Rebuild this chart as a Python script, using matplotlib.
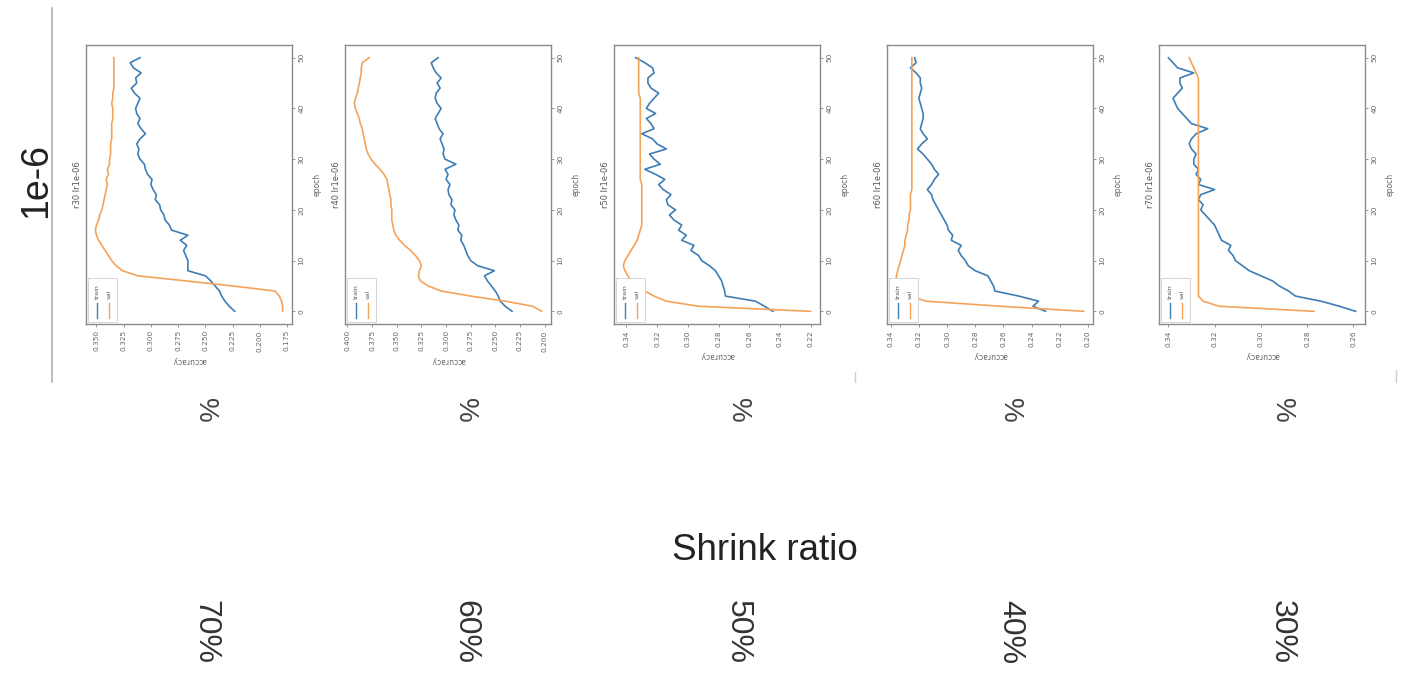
import numpy as np
import matplotlib.pyplot as plt
from matplotlib.ticker import MultipleLocator, FormatStrFormatter
from matplotlib.patches import Rectangle
from matplotlib.lines import Line2D

epochs = np.arange(51)

titles = ["r30 lr1e-06", "r40 lr1e-06", "r50 lr1e-06", "r60 lr1e-06", "r70 lr1e-06"]
ratio_labels = ["70%", "60%", "50%", "40%", "30%"]
lr_label = "1e-6"
axis_title = "Shrink ratio"
tick_steps = [0.025, 0.025, 0.02, 0.02, 0.02]
tick_fmts = ["%.3f", "%.3f", "%.2f", "%.2f", "%.2f"]

train_r30 = [0.223, 0.228, 0.232, 0.235, 0.237, 0.241, 0.245, 0.250, 0.266, 0.266,
             0.266, 0.268, 0.270, 0.267, 0.273, 0.266, 0.281, 0.283, 0.287, 0.288,
             0.291, 0.292, 0.296, 0.295, 0.298, 0.300, 0.299, 0.303, 0.305, 0.306,
             0.310, 0.312, 0.311, 0.313, 0.310, 0.305, 0.309, 0.312, 0.310, 0.313,
             0.314, 0.312, 0.310, 0.315, 0.318, 0.313, 0.314, 0.309, 0.316, 0.319,
             0.310]
val_r30 = [0.179, 0.179, 0.180, 0.182, 0.186, 0.225, 0.268, 0.312, 0.326, 0.332,
           0.336, 0.339, 0.342, 0.345, 0.348, 0.350, 0.351, 0.350, 0.348, 0.347,
           0.345, 0.344, 0.343, 0.342, 0.341, 0.340, 0.341, 0.339, 0.340, 0.338,
           0.338, 0.337, 0.337, 0.337, 0.336, 0.336, 0.336, 0.336, 0.335, 0.335,
           0.335, 0.336, 0.335, 0.335, 0.334, 0.334, 0.334, 0.334, 0.334, 0.334,
           0.334]

train_r40 = [0.233, 0.240, 0.245, 0.247, 0.250, 0.254, 0.258, 0.261, 0.251, 0.268,
             0.275, 0.278, 0.280, 0.282, 0.285, 0.284, 0.288, 0.287, 0.290, 0.292,
             0.291, 0.295, 0.294, 0.297, 0.298, 0.296, 0.300, 0.298, 0.301, 0.290,
             0.301, 0.303, 0.302, 0.304, 0.306, 0.303, 0.307, 0.309, 0.311, 0.308,
             0.305, 0.309, 0.311, 0.310, 0.306, 0.309, 0.305, 0.310, 0.313, 0.315,
             0.308]
val_r40 = [0.203, 0.212, 0.240, 0.275, 0.305, 0.318, 0.326, 0.328, 0.327, 0.325,
           0.327, 0.331, 0.336, 0.342, 0.347, 0.351, 0.353, 0.354, 0.355, 0.355,
           0.355, 0.356, 0.356, 0.357, 0.358, 0.359, 0.360, 0.363, 0.367, 0.372,
           0.376, 0.379, 0.381, 0.382, 0.383, 0.384, 0.385, 0.387, 0.388, 0.390,
           0.392, 0.393, 0.392, 0.390, 0.389, 0.388, 0.387, 0.386, 0.386, 0.385,
           0.378]

train_r50 = [0.2445, 0.250, 0.256, 0.2755, 0.276, 0.277, 0.278, 0.280, 0.282, 0.286,
             0.291, 0.293, 0.298, 0.296, 0.304, 0.301, 0.306, 0.304, 0.309, 0.312,
             0.308, 0.313, 0.314, 0.311, 0.316, 0.319, 0.315, 0.321, 0.328, 0.318,
             0.322, 0.325, 0.314, 0.320, 0.323, 0.330, 0.322, 0.324, 0.327, 0.321,
             0.327, 0.325, 0.322, 0.319, 0.324, 0.326, 0.326, 0.322, 0.323, 0.328,
             0.334]
val_r50 = [0.220, 0.293, 0.314, 0.322, 0.328, 0.333, 0.337, 0.339, 0.341, 0.342,
           0.341, 0.339, 0.337, 0.335, 0.333, 0.332, 0.331, 0.330, 0.330, 0.330,
           0.330, 0.330, 0.330, 0.330, 0.330, 0.330, 0.331, 0.331, 0.331, 0.331,
           0.331, 0.331, 0.331, 0.331, 0.331, 0.331, 0.331, 0.331, 0.331, 0.331,
           0.331, 0.331, 0.331, 0.332, 0.332, 0.332, 0.332, 0.332, 0.332, 0.332,
           0.332]

train_r60 = [0.230, 0.239, 0.235, 0.249, 0.266, 0.267, 0.269, 0.271, 0.280, 0.285,
             0.287, 0.290, 0.292, 0.290, 0.297, 0.296, 0.299, 0.300, 0.302, 0.304,
             0.306, 0.308, 0.310, 0.311, 0.314, 0.311, 0.309, 0.306, 0.309, 0.311,
             0.314, 0.317, 0.321, 0.318, 0.314, 0.317, 0.319, 0.318, 0.317, 0.317,
             0.318, 0.319, 0.320, 0.319, 0.318, 0.319, 0.319, 0.322, 0.326, 0.322,
             0.323]
val_r60 = [0.203, 0.262, 0.315, 0.326, 0.331, 0.334, 0.336, 0.336, 0.335, 0.334,
           0.333, 0.332, 0.331, 0.330, 0.330, 0.329, 0.328, 0.328, 0.327, 0.327,
           0.326, 0.326, 0.326, 0.326, 0.325, 0.325, 0.325, 0.325, 0.325, 0.325,
           0.325, 0.325, 0.325, 0.325, 0.325, 0.325, 0.325, 0.325, 0.325, 0.325,
           0.325, 0.325, 0.325, 0.325, 0.325, 0.325, 0.325, 0.325, 0.325, 0.325,
           0.325]

train_r70 = [0.259, 0.266, 0.274, 0.285, 0.288, 0.292, 0.295, 0.300, 0.305, 0.308,
             0.311, 0.312, 0.314, 0.313, 0.317, 0.318, 0.319, 0.320, 0.322, 0.324,
             0.326, 0.325, 0.327, 0.326, 0.320, 0.327, 0.326, 0.328, 0.327, 0.329,
             0.329, 0.328, 0.330, 0.331, 0.330, 0.328, 0.323, 0.330, 0.332, 0.334,
             0.336, 0.337, 0.338, 0.336, 0.334, 0.335, 0.335, 0.329, 0.336, 0.338,
             0.340]
val_r70 = [0.277, 0.318, 0.325, 0.327, 0.327, 0.327, 0.327, 0.327, 0.327, 0.327,
           0.327, 0.327, 0.327, 0.327, 0.327, 0.327, 0.327, 0.327, 0.327, 0.327,
           0.327, 0.327, 0.327, 0.327, 0.327, 0.327, 0.327, 0.327, 0.327, 0.327,
           0.327, 0.327, 0.327, 0.327, 0.327, 0.327, 0.327, 0.327, 0.327, 0.327,
           0.327, 0.327, 0.327, 0.327, 0.327, 0.327, 0.327, 0.328, 0.329, 0.330,
           0.331]

train_all = [train_r30, train_r40, train_r50, train_r60, train_r70]
val_all = [val_r30, val_r40, val_r50, val_r60, val_r70]

BLUE = "#3f7db5"
ORANGE = "#f5a35a"
W, H = 1406, 690

fig = plt.figure(figsize=(14.06, 6.9), dpi=100)
fig.patch.set_facecolor("white")

# panel boxes in pixels (left, top, width, height)
lefts = [86, 345, 614, 887, 1159]
top_px, box_h, box_w = 45, 279, 206
ratio_x = [205, 465, 738, 1010, 1282]

for i in range(5):
    ax = fig.add_axes([lefts[i] / W, 1 - (top_px + box_h) / H, box_w / W, box_h / H])
    ax.plot(train_all[i], epochs, color=BLUE, lw=1.2)
    ax.plot(val_all[i], epochs, color=ORANGE, lw=1.2)
    ax.invert_xaxis()
    ax.xaxis.set_major_locator(MultipleLocator(tick_steps[i]))
    ax.xaxis.set_major_formatter(FormatStrFormatter(tick_fmts[i]))
    ax.set_yticks(np.arange(0, 51, 10))
    ax.yaxis.tick_right()
    ax.yaxis.set_label_position("right")
    ax.tick_params(axis="both", labelsize=5.3, labelcolor="#666666",
                   color="#888888", length=2.5, width=0.6, pad=2)
    ax.tick_params(axis="x", labelrotation=90)
    ax.tick_params(axis="y", labelrotation=90)
    for lab in ax.get_yticklabels():
        lab.set_va("center")
    for sp in ax.spines.values():
        sp.set_color("#8a8a8a")
        sp.set_linewidth(1.0)
    ax.set_xlabel("accuracy", rotation=180, fontsize=5.5, color="#666666", labelpad=3)
    ax.set_ylabel("epoch", rotation=90, fontsize=5.5, color="#666666", labelpad=6)
    ax.text(-0.02, 0.5, titles[i], rotation=90, transform=ax.transAxes,
            ha="right", va="center", fontsize=6, color="#555555")

    # legend drawn sideways, like the rest of the panel
    ax.add_patch(Rectangle((0.01, 0.008), 0.14, 0.157, transform=ax.transAxes,
                           fc="white", ec="#d0d0d0", lw=0.6, zorder=4))
    ax.add_line(Line2D([0.053, 0.053], [0.02, 0.075], transform=ax.transAxes,
                       color=BLUE, lw=1.0, zorder=5))
    ax.add_line(Line2D([0.111, 0.111], [0.02, 0.075], transform=ax.transAxes,
                       color=ORANGE, lw=1.0, zorder=5))
    ax.text(0.053, 0.09, "train", rotation=90, transform=ax.transAxes,
            ha="center", va="bottom", fontsize=4.5, color="#555555", zorder=5)
    ax.text(0.111, 0.09, "val", rotation=90, transform=ax.transAxes,
            ha="center", va="bottom", fontsize=4.5, color="#555555", zorder=5)

    fig.text(ratio_x[i] / W, 1 - 410 / H, "%", rotation=-90, ha="center", va="center",
             fontsize=20, color="#444444", family="Liberation Sans")
    fig.text(ratio_x[i] / W, 1 - 632 / H, ratio_labels[i], rotation=-90,
             ha="center", va="center", fontsize=23, color="#333333",
             family="Liberation Sans")

fig.text(36 / W, 1 - 180 / H, lr_label, rotation=90, ha="center", va="center",
         fontsize=27, color="#222222", family="Liberation Sans")
fig.text(765 / W, 1 - 550 / H, axis_title, ha="center", va="center",
         fontsize=26.5, color="#222222", family="Liberation Sans")

# slide edge and small screen marks
fig.add_artist(Line2D([52 / W, 52 / W], [1 - 8 / H, 1 - 382 / H], color="#b0b0b0", lw=1.2))
fig.add_artist(Line2D([855 / W, 855 / W], [1 - 372 / H, 1 - 382 / H], color="#cfcfcf", lw=1.0))
fig.add_artist(Line2D([1396 / W, 1396 / W], [1 - 370 / H, 1 - 382 / H], color="#cfcfcf", lw=1.0))

fig.savefig("out.png", dpi=100, facecolor="white")
